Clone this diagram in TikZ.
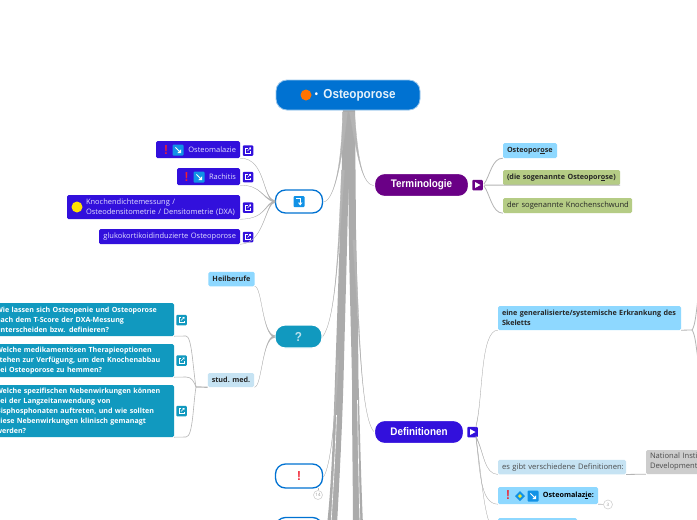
\documentclass[tikz,border=0pt]{standalone}
\usepackage{fontspec}
\usetikzlibrary{calc}
\setmainfont{Open Sans}
\newfontfamily\headfont[FakeStretch=0.9]{Liberation Sans}
\definecolor{rootblue}{HTML}{0072D2}
\definecolor{indigo}{HTML}{3210DC}
\definecolor{purp}{HTML}{6A0086}
\definecolor{teal}{HTML}{1199BF}
\definecolor{sky}{HTML}{8ED8FF}
\definecolor{pale}{HTML}{C6E3F3}
\definecolor{olive}{HTML}{B5CC85}
\definecolor{greybox}{HTML}{CDCDCD}
\definecolor{linegrey}{HTML}{B4B4B4}
\definecolor{trunkgrey}{HTML}{ABABAB}
\definecolor{lav}{HTML}{E2DEFF}
\definecolor{iconblue}{HTML}{1192E6}
\definecolor{alarm}{HTML}{F02030}
\tikzset{
  main/.style={rectangle,rounded corners=10,draw=white,line width=1.2,inner sep=0,text=white,font=\headfont\fontsize{11}{13}\selectfont\bfseries},
  iconnode/.style={rectangle,rounded corners=10,draw=rootblue,line width=1.3,fill=white,inner sep=0,minimum width=47,minimum height=23},
  leafbox/.style={rectangle,rounded corners=1.5,inner sep=0,inner xsep=4,font=\fontsize{7.6}{10}\selectfont},
  leftbox/.style={leafbox,fill=indigo,text=lav,align=right,font=\fontsize{7.5}{10}\selectfont},
  qbox/.style={leafbox,fill=teal,text=white,align=left,font=\fontsize{7.1}{10}\selectfont\bfseries},
  skybox/.style={leafbox,fill=sky,text=black!85,align=left,font=\fontsize{7.2}{10}\selectfont\bfseries},
  olivebox/.style={leafbox,fill=olive,text=black!85,align=left},
  btn/.style={rectangle,rounded corners=1,inner sep=0,minimum width=10.5,minimum height=10.5},
  link/.style={draw=linegrey,line width=0.8,fill=none},
  branch/.style={fill=linegrey,draw=linegrey,line width=0.3},
  trunk/.style={fill=trunkgrey,draw=none},
  excl/.style={text=alarm,inner sep=0,font=\headfont\bfseries\fontsize{13}{13}\selectfont},
  countc/.style={circle,draw=black!18,fill=white,line width=0.6,inner sep=0,minimum size=9,text=black!40,font=\fontsize{4.5}{5}\selectfont},
}
\newcommand\taperx[5]{\fill[branch] ($(#1)+(-#5,0)$) .. controls (#2) and (#3) .. (#4) .. controls (#3) and (#2) .. ($(#1)+(#5,0)$) -- cycle;}
\newcommand\tapery[5]{\fill[branch] ($(#1)+(0,-#5)$) .. controls (#2) and (#3) .. (#4) .. controls (#3) and (#2) .. ($(#1)+(0,#5)$) -- cycle;}
\newcommand\extlink[1]{%
  \draw[white,line width=0.6] ($(#1)+(-0.5,-2.5)$) -- ($(#1)+(-2.5,-2.5)$) -- ($(#1)+(-2.5,2.5)$) -- ($(#1)+(2.5,2.5)$) -- ($(#1)+(2.5,0.5)$);
  \draw[white,line width=0.6] ($(#1)+(-0.5,0.5)$) -- ($(#1)+(2.8,-2.8)$);
  \fill[white] ($(#1)+(0.8,-2.9)$) -- ($(#1)+(2.9,-2.9)$) -- ($(#1)+(2.9,-0.8)$) -- cycle;}
\newcommand\arrowicon[1]{%
  \fill[iconblue,rounded corners=1] ($(#1)+(-5.5,-5.5)$) rectangle ($(#1)+(5.5,5.5)$);
  \draw[white,line width=0.9] ($(#1)+(-2.6,-2.6)$) -- ($(#1)+(1.5,1.5)$);
  \fill[white] ($(#1)+(3,3)$) -- ($(#1)+(3,-0.6)$) -- ($(#1)+(-0.6,3)$) -- cycle;}
\newcommand\turnicon[1]{%
  \fill[iconblue,rounded corners=1] ($(#1)+(-5.5,-5.5)$) rectangle ($(#1)+(5.5,5.5)$);
  \draw[white,line width=1.1] ($(#1)+(-2.8,-2.6)$) -- ($(#1)+(1.2,-2.6)$) -- ($(#1)+(1.2,1.5)$);
  \fill[white] ($(#1)+(1.2,4)$) -- ($(#1)+(3.5,1)$) -- ($(#1)+(-1.1,1)$) -- cycle;}
\newcommand\playicon[1]{\fill[white] ($(#1)+(-2.5,-3)$) -- ($(#1)+(3,0)$) -- ($(#1)+(-2.5,3)$) -- cycle;}
\begin{document}
\begin{tikzpicture}[x=1pt,y=-1pt]
\useasboundingbox (0,0) rectangle (697,520);
\clip (0,0) rectangle (697,520);
\fill[white] (0,0) rectangle (697,520);

\path
  coordinate (icT) at (299,201.5)
  coordinate (qT) at (298.5,336.5)
  coordinate (exT) at (299,476)
  coordinate (nextT) at (299,529)
  coordinate (termT) at (421.5,185)
  coordinate (defT) at (419,432);

% trunk
\fill[trunk] (343,110) .. controls (342,180) and (339,260) .. (335,380)
  .. controls (333,440) and (331,490) .. (327,525) -- (337,525)
  .. controls (340,470) and (342,430) .. (343.5,380)
  .. controls (345,320) and (347,250) .. (348,205) -- (352,110) -- cycle;
\fill[trunk] (347,110) -- (348.5,205) .. controls (349,270) and (351,330) .. (352,380)
  .. controls (352,440) and (353,490) .. (353,525) -- (363,525)
  .. controls (361,480) and (360,430) .. (358.5,380)
  .. controls (358,320) and (357,270) .. (356,230) -- (355,110) -- cycle;
\draw[white,line width=0.6] (336.5,415) .. controls (335.5,450) and (333,490) .. (331,525);
\draw[white,line width=0.6] (342,440) .. controls (341,470) and (339,500) .. (338,525);
\draw[white,line width=0.6] (357.5,400) .. controls (358,440) and (359,490) .. (360,525);

% branches from the root
\taperx{352,112}{358,160}{362,185}{375,186}{2.5}
\taperx{345,112}{342,160}{335,200}{323.5,202}{2.5}
\taperx{343,170}{338,260}{335,320}{322.5,337}{1.5}
\taperx{338,360}{335,420}{331,465}{323.5,477}{1}
\taperx{354,240}{360,340}{361,420}{375,433}{1.2}

% root node
\node[rectangle,rounded corners=11,draw=white!60!rootblue,line width=0.8,fill=rootblue,minimum width=144,minimum height=30,inner sep=0] (root) at (348,95) {};
\node[inner sep=0,text=white!90!rootblue,font=\headfont\fontsize{13}{15}\selectfont\bfseries] (roott) at (359.5,95.3) {Osteoporose};
\node[inner sep=0,text=white,font=\headfont\fontsize{10}{12}\selectfont\bfseries] (dot) at (316.5,95) {•};
\fill[orange!90!red] (306,95) circle (5.5);

% Terminologie
\node[main,fill=purp,minimum width=94,minimum height=23] (term) at (termT) {Terminologie};
\node[btn,fill=purp] (termb) at (477.5,185) {};
\playicon{termb}
\node[skybox,minimum width=54,minimum height=15,text width=46] (t1) at (530,150.5) {\mbox{Osteopor\underline{o}se}};
\node[skybox,fill=olive,minimum width=117,minimum height=15,text width=109] (t2) at (561.5,177.5) {\mbox{(die sogenannte Osteopor\underline{o}se)}};
\node[olivebox,minimum width=129,minimum height=15,text width=121] (t3) at (567.5,205.5) {\mbox{der sogenannte Knochenschwund}};
\draw[link] (484,184) .. controls (490,176) and (492,158) .. (t1.south west);
\draw[link,line width=1] (484,185) -- (t2.south west) -- (t2.south east);
\draw[link] (484,186) .. controls (490,194) and (492,213) .. (t3.south west);

% icon node with four leaves
\node[iconnode] (ic) at (icT) {};
\turnicon{ic}
\node[leftbox,minimum width=84,minimum height=17,text width=76] (l1) at (198,149.5) {Osteomalazie};
\node[leftbox,minimum width=63,minimum height=17,text width=55] (l2) at (208.5,176.5) {Rachitis};
\node[leftbox,minimum width=173,minimum height=24,text width=165,align=left] (l3) at (153.5,207) {\hspace*{15pt}Knochendichtemessung /\\\hspace*{15pt}Osteodensitometrie / Densitometrie (DXA)};
\node[leftbox,minimum width=141,minimum height=15,text width=133] (l4) at (169.5,236.5) {glukokortikoidinduzierte Osteoporose};
\fill[yellow!85!orange] (77,207) circle (5.5);
\node[excl] (e1) at (166,150) {!};
\arrowicon{178,150}
\node[excl] (e2) at (186.5,177) {!};
\arrowicon{199,177}
\foreach \nm/\yy in {b1/150.5,b2/177,b3/207.5,b4/237}{
  \node[btn,fill=indigo] (\nm) at (248,\yy) {};
  \extlink{\nm}
}
\tapery{ic.west}{262,199}{266,158}{l1.south east}{1}
\tapery{ic.west}{262,199}{262,185}{l2.south east}{1}
\tapery{ic.west}{264,204}{266,219}{l3.south east}{1}
\tapery{ic.west}{265,204}{264,244}{l4.south east}{1}

% question node
\node[main,fill=teal,minimum width=47,minimum height=23,text=white!70!teal,font=\headfont\fontsize{13}{13}\selectfont\bfseries] (q) at (qT) {?};
\node[skybox,minimum width=45,minimum height=14.5] (h1) at (231.5,279) {Heilberufe};
\node[skybox,fill=pale,minimum width=46,minimum height=14] (h2) at (231,380) {stud. med.};
\tapery{q.west}{262,334}{262,286}{h1.south east}{1}
\tapery{q.west}{262,338}{262,387}{h2.south east}{1.2}
\node[qbox,minimum width=182,minimum height=33,text width=174] (q1) at (83,319.5) {Wie lassen sich Osteopenie und Osteoporose\\nach dem T-Score der DXA-Messung\\unterscheiden bzw. definieren?};
\node[qbox,minimum width=182,minimum height=33,text width=174] (q2) at (83,360.5) {Welche medikamentösen Therapieoptionen\\stehen zur Verfügung, um den Knochenabbau\\bei Osteoporose zu hemmen?};
\node[qbox,minimum width=182,minimum height=52,text width=174] (q3) at (83,411) {Welche spezifischen Nebenwirkungen können\\bei der Langzeitanwendung von\\Bisphosphonaten auftreten, und wie sollten\\diese Nebenwirkungen klinisch gemanagt\\werden?};
\foreach \nm/\yy in {q1b/320,q2b/360.5,q3b/411}{
  \node[btn,fill=teal] (\nm) at (181.5,\yy) {};
  \extlink{\nm}
}
\coordinate (fork) at (196,387);
\draw[linegrey,line width=1.2] (h2.south west) -- (fork);
\draw[link,line width=0.6] (fork) .. controls (193,370) and (192,336) .. (186,336) -- (q1.south east);
\draw[link,line width=0.6] (fork) .. controls (194,382) and (192,377) .. (186,377) -- (q2.south east);
\draw[link,line width=0.6] (fork) .. controls (193,405) and (193,437) .. (186,437) -- (q3.south east);

% exclamation node and next node
\node[iconnode,minimum height=24] (ex) at (exT) {};
\node[excl] (ext) at (ex) {!};
\node[countc] (c14) at (318,495) {14};
\draw[link,line width=0.5] (318,488) -- (c14);
\node[iconnode] (nx) at (nextT) {};

% Definitionen
\node[main,fill=indigo,minimum width=89,minimum height=23] (def) at (defT) {Definitionen};
\node[btn,fill=indigo] (defb) at (472.5,432) {};
\playicon{defb}
\node[skybox,minimum width=183,minimum height=24,text width=175] (d1) at (589.5,318) {\mbox{eine generalisierte/systemische Erkrankung des}\\Skeletts};
\node[leafbox,fill=pale,text=black!70,minimum width=128,minimum height=14.5,text width=120,align=left] (d2) at (562,467) {\mbox{es gibt verschiedene Definitionen:}};
\node[leafbox,fill=greybox,text=black!70,minimum width=74,minimum height=24,text width=66,align=left] (d3) at (683,462) {National Institutes\\Development};
\node[skybox,text width=92,align=right,minimum width=100,minimum height=17,text=black] (d4) at (548,495.5) {Osteomalaz\underline{i}e:};
\node[skybox,minimum width=79,minimum height=17] (d5) at (537.5,526.5) {};
\node[excl] (e3) at (508,495.5) {!};
\fill[iconblue] (520,491) -- (525,496) -- (520,501) -- (515,496) -- cycle;
\fill[yellow!70!olive] (520,494) -- (522,496) -- (520,498) -- (518,496) -- cycle;
\arrowicon{533,496}
\node[countc] (c3) at (608,504.5) {3};
\draw[link,line width=0.6] (d4.south east) -- (c3);
\tapery{476,426}{483,400}{480,330}{d1.south west}{0.7}
\tapery{476,437}{484,452}{484,474}{d2.south west}{0.7}
\tapery{476,437}{480,470}{480,504}{d4.south west}{0.8}
\tapery{476,438}{482,480}{483,505}{490,525}{0.7}
\draw[link] (d2.south east) -- (d3.south west);
\draw[link] (d1.south east) -- (692,330);
\draw[link] (692,330) .. controls (695,326) and (696,315) .. (698,298);
\draw[link] (692,330) .. controls (695,334) and (696,345) .. (698,360);
\end{tikzpicture}
\end{document}
